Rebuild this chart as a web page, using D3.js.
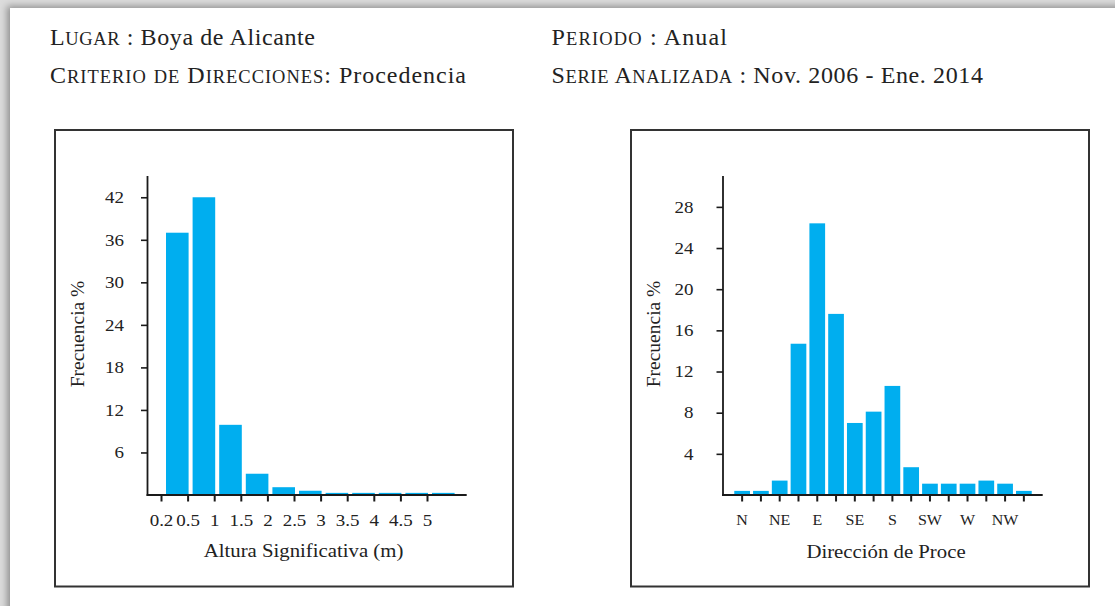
<!DOCTYPE html>
<html lang="es">
<head>
  <meta charset="UTF-8" />
  <title>Boya de Alicante - Anual</title>
  <style>
    body {
      margin: 0;
      width: 1115px;
      height: 606px;
      overflow: hidden;
      background: #dcdcdc;
    }

    .page {
      position: absolute;
      left: 10px;
      top: 8px;
      width: 1200px;
      height: 700px;
      background: #fff;
      box-shadow: -3px -2px 7px rgba(0, 0, 0, 0.35);
    }

    svg {
      position: absolute;
      left: 0;
      top: 0;
    }

    svg text {
      fill: #222;
      font-family: "Liberation Serif", "DejaVu Serif", serif;
    }

    .frame {
      fill: none;
      stroke: #333;
      stroke-width: 2px;
    }

    .axis-line {
      stroke: #1a1a1a;
      stroke-width: 1.8px;
    }
  </style>
</head>
<body>
  <div class="page"></div>
  <svg width="1115" height="606"></svg>

  <script src="https://d3js.org/d3.v7.min.js"></script>
  <script>
    // header lines: small caps label, normal value
    const headerLeft = [["Lugar", " : Boya de Alicante"], ["Criterio de Direcciones", ": Procedencia"]];
    const headerRight = [["Periodo", " : Anual"], ["Serie Analizada", " : Nov. 2006 - Ene. 2014"]];

    // altura significativa
    const hsLabels = ["0.2", "0.5", "1", "1.5", "2", "2.5", "3", "3.5", "4", "4.5", "5"];
    const hsFreq = [37.0, 42.0, 9.9, 3.0, 1.1, 0.6, 0.3, 0.3, 0.3, 0.3, 0.3];
    const hsTicks = [6, 12, 18, 24, 30, 36, 42];

    // direccion de procedencia
    const dirLabels = ["N", "NNE", "NE", "ENE", "E", "ESE", "SE", "SSE", "S", "SSW", "SW", "WSW", "W", "WNW", "NW", "NNW"];
    const dirFreq = [0.4, 0.4, 1.4, 14.7, 26.4, 17.6, 7.0, 8.1, 10.6, 2.7, 1.1, 1.1, 1.1, 1.4, 1.1, 0.4];
    const dirTicks = [4, 8, 12, 16, 20, 24, 28];

    const barColor = "#00aeef";
    const sy = 0.86; // chart text is a bit squashed vertically

    const svg = d3.select("svg");

    // ---- header ----
    function smallCaps(text, str) {
      let runs = [];
      for (const ch of str) {
        const small = ch !== ch.toUpperCase();
        const last = runs[runs.length - 1];
        if (last && last.small === small) last.s += ch;
        else runs.push({ s: ch, small: small });
      }
      runs.forEach(r => {
        text.append("tspan")
          .style("font-size", r.small ? "0.77em" : "1em")
          .text(r.small ? r.s.toUpperCase() : r.s);
      });
    }

    function header(lines, x, widths) {
      lines.forEach((l, i) => {
        const t = svg.append("text")
          .attr("x", x)
          .attr("y", 45 + i * 37.7)
          .attr("textLength", widths[i])
          .attr("lengthAdjust", "spacing")
          .style("font-size", "24px");
        smallCaps(t, l[0]);
        t.append("tspan").text(l[1]);
      });
    }

    header(headerLeft, 50, [265, 416]);
    header(headerRight, 551.5, [175.5, 431.5]);

    // ---- frames ----
    svg.append("rect").attr("class", "frame")
      .attr("x", 55).attr("y", 130).attr("width", 458).attr("height", 456.5);
    svg.append("rect").attr("class", "frame")
      .attr("x", 631).attr("y", 130).attr("width", 458).attr("height", 456.5);

    function yLabel(x, y, str) {
      svg.append("text")
        .attr("transform", `translate(${x},${y}) rotate(-90)`)
        .attr("text-anchor", "middle")
        .style("font-size", "19.5px")
        .text(str);
    }

    function xLabel(x, y, str) {
      svg.append("text")
        .attr("transform", `translate(${x},${y}) scale(1,${sy})`)
        .attr("text-anchor", "middle")
        .style("font-size", "20.8px")
        .text(str);
    }

    function styleYAxis(g) {
      g.select(".domain").remove();
      g.selectAll(".tick line").attr("stroke", "#1a1a1a").attr("stroke-width", 1.6);
      g.selectAll(".tick text")
        .attr("transform", `scale(1,${sy})`)
        .style("font-size", "19px");
    }

    function styleXAxis(g, size, base) {
      g.select(".domain").remove();
      g.selectAll(".tick line").attr("stroke", "#1a1a1a").attr("stroke-width", 2);
      g.selectAll(".tick text")
        .attr("y", base / sy)
        .attr("dy", 0)
        .attr("transform", `scale(1,${sy})`)
        .style("font-size", size + "px");
    }

    // ---- left chart: altura significativa ----
    const y1 = d3.scaleLinear().domain([0, 45]).range([495, 176]);
    const x1 = d3.scaleLinear().domain([0, hsLabels.length]).range([161, 453.6]);

    const c1 = svg.append("g");

    c1.selectAll("rect.bar")
      .data(hsFreq)
      .join("rect")
      .attr("class", "bar")
      .attr("x", (d, i) => x1(i) + 5)
      .attr("width", (d, i) => x1(i + 1) + 1 - (x1(i) + 5))
      .attr("y", d => y1(d))
      .attr("height", d => y1(0) - y1(d))
      .attr("fill", barColor);

    c1.append("g")
      .attr("transform", "translate(147.5,0)")
      .call(d3.axisLeft(y1).tickValues(hsTicks).tickSize(6.5).tickPadding(17))
      .call(styleYAxis);

    c1.append("g")
      .attr("transform", "translate(0,495)")
      .call(d3.axisBottom(x1).tickValues(d3.range(hsLabels.length))
        .tickFormat(i => hsLabels[i]).tickSize(6.5))
      .call(g => styleXAxis(g, 19, 31));

    c1.append("line").attr("class", "axis-line")
      .attr("x1", 147.5).attr("x2", 147.5).attr("y1", y1.range()[1]).attr("y2", y1(0) + 0.9);
    c1.append("line").attr("class", "axis-line")
      .attr("x1", 146.6).attr("x2", 466.7).attr("y1", y1(0)).attr("y2", y1(0));

    yLabel(83.5, 334, "Frecuencia %");
    xLabel(303.5, 556.7, "Altura Significativa (m)");

    // ---- right chart: direccion ----
    const y2 = d3.scaleLinear().domain([0, 31]).range([495, 176]);
    const x2 = d3.scaleBand().domain(dirLabels).range([731.2, 1034.8]).padding(0.164);

    const c2 = svg.append("g");

    c2.selectAll("rect.bar")
      .data(dirFreq)
      .join("rect")
      .attr("class", "bar")
      .attr("x", (d, i) => x2(dirLabels[i]))
      .attr("width", x2.bandwidth())
      .attr("y", d => y2(d))
      .attr("height", d => y2(0) - y2(d))
      .attr("fill", barColor);

    c2.append("g")
      .attr("transform", "translate(723,0)")
      .call(d3.axisLeft(y2).tickValues(dirTicks).tickSize(6.5).tickPadding(23))
      .call(styleYAxis);

    c2.append("g")
      .attr("transform", "translate(0,495)")
      .call(d3.axisBottom(x2).tickFormat((d, i) => i % 2 === 0 ? d : "").tickSize(6.5))
      .call(g => styleXAxis(g, 16, 30));

    c2.append("line").attr("class", "axis-line")
      .attr("x1", 723).attr("x2", 723).attr("y1", y2.range()[1]).attr("y2", y2(0) + 0.9);
    c2.append("line").attr("class", "axis-line")
      .attr("x1", 722.1).attr("x2", 1042.7).attr("y1", y2(0)).attr("y2", y2(0));

    yLabel(660, 334, "Frecuencia %");
    xLabel(886, 557.7, "Dirección de Proce");
  </script>
</body>
</html>
